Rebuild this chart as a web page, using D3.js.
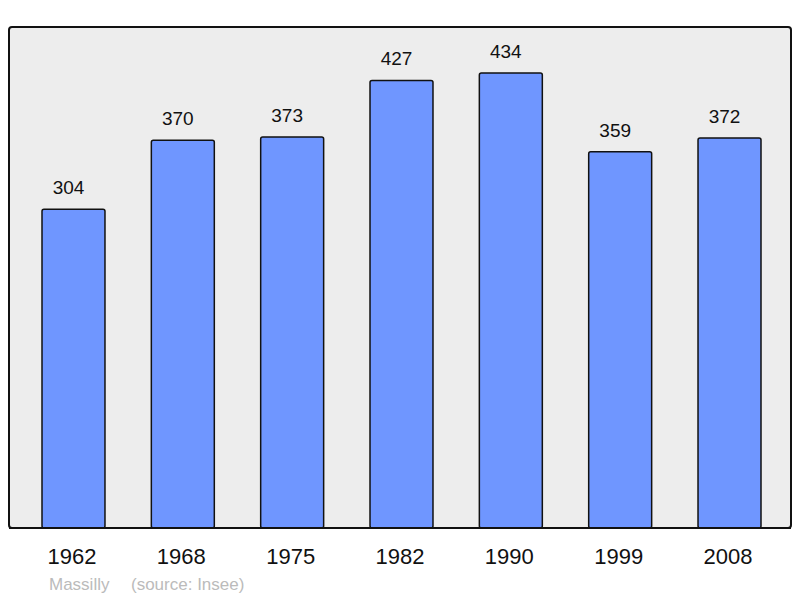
<!DOCTYPE html>
<html><head><meta charset="utf-8">
<script src="https://cdn.jsdelivr.net/npm/d3@7"></script>
<style>body{margin:0;background:#fff}svg{display:block}</style>
</head><body>
<svg id="c" width="800" height="598"></svg>
<script>
const years = ["1962","1968","1975","1982","1990","1999","2008"];
const population = [304,370,373,427,434,359,372];
const commune = "Massilly";
const source = "(source: Insee)";

const svg = d3.select("#c");
const frame = {x0: 9, y0: 27, x1: 791, y1: 528};
const font = "'Liberation Sans', Arial, sans-serif";

svg.append("rect")
  .attr("x", frame.x0).attr("y", frame.y0)
  .attr("width", frame.x1 - frame.x0).attr("height", frame.y1 - frame.y0)
  .attr("rx", 3).attr("fill", "#ededed").attr("stroke", "#111").attr("stroke-width", 2);

const x = d3.scaleBand().domain(years).range([42, 761]).paddingInner(0.424).paddingOuter(0);
const y = d3.scaleLinear().domain([0, 478]).range([frame.y1, frame.y0]);

const g = svg.append("g");
g.selectAll("rect.bar").data(years).join("rect")
  .attr("class","bar")
  .attr("x", d => x(d))
  .attr("y", (d,i) => y(population[i]))
  .attr("width", x.bandwidth())
  .attr("height", (d,i) => frame.y1 - y(population[i]))
  .attr("rx", 2)
  .attr("fill", "#6f96ff").attr("stroke", "#111").attr("stroke-width", 1.5);

g.selectAll("text.val").data(years).join("text")
  .attr("x", d => x(d) + x.bandwidth()/2 - 5)
  .attr("y", (d,i) => y(population[i]) - 15)
  .attr("text-anchor","middle").attr("font-family", font).attr("font-size", 19).attr("fill","#111")
  .text((d,i) => population[i]);

svg.append("line").attr("x1", frame.x0).attr("x2", frame.x1).attr("y1", frame.y1).attr("y2", frame.y1)
  .attr("stroke","#111").attr("stroke-width",2);

const axis = d3.axisBottom(x).tickSize(0).tickPadding(0);
const ax = svg.append("g").attr("transform", `translate(-1.5,${frame.y1 + 20})`).call(axis);
ax.select(".domain").remove();
ax.selectAll("text").attr("font-family", font).attr("font-size", 22).attr("fill","#111").attr("dy","0.71em");

svg.append("text").attr("x", 49).attr("y", 590).attr("font-family", font).attr("font-size", 17).attr("fill","#bbbbbb")
  .text(commune);
svg.append("text").attr("x", 131).attr("y", 590).attr("font-family", font).attr("font-size", 17).attr("fill","#bbbbbb")
  .text(source);
</script>
</body></html>
